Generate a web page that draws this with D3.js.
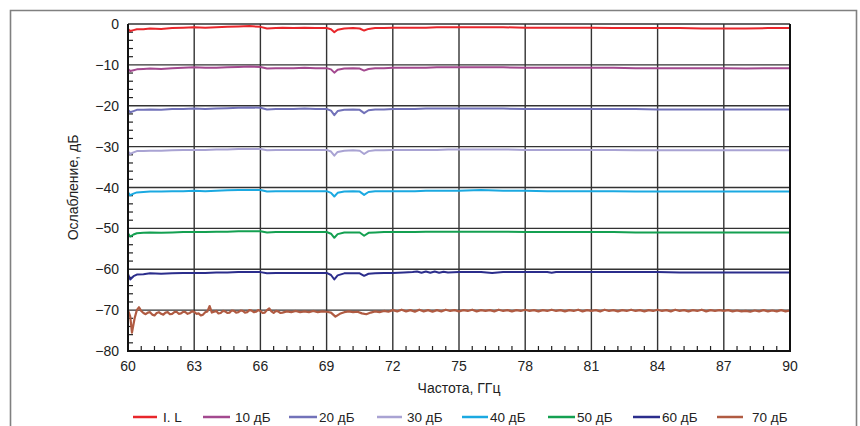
<!DOCTYPE html>
<html><head><meta charset="utf-8">
<script src="https://cdn.jsdelivr.net/npm/d3@7"></script>
<style>body{margin:0;background:#fff} text{font-family:"Liberation Sans",Arial,sans-serif;fill:#222}</style>
</head><body><svg id="c" width="860" height="426"></svg>
<script>
// ---------- DATA ----------
const seriesNames = ["I. L","10 дБ","20 дБ","30 дБ","40 дБ","50 дБ","60 дБ","70 дБ"];
const seriesColors = ["#e8262b","#a3498f","#7272b9","#a9a3d3","#1ba9e1","#14a051","#2b2d8c","#b05b42"];
const xTicks = [60,63,66,69,72,75,78,81,84,87,90];
const yTicks = [0,-10,-20,-30,-40,-50,-60,-70,-80];

const freq = [60,60.1,60.25,60.4,60.7,61,61.5,62,62.5,63,63.5,64,64.5,65,65.5,66,66.3,66.7,67,67.5,68,68.5,69,69.2,69.35,69.5,69.8,70.2,70.5,70.7,70.9,71.2,71.6,72,72.5,73,73.5,74,74.5,75,76,77,78,79,80,81,82,83,84,85,86,87,88,89,90];

const il   = [-1.2,-1.7,-1.5,-1.3,-1.3,-1.1,-1.2,-1.0,-0.9,-0.8,-0.9,-0.8,-0.7,-0.6,-0.5,-0.7,-1.1,-1.0,-0.9,-1.0,-0.9,-1.0,-1.0,-1.3,-2.0,-1.4,-1.1,-1.0,-1.1,-1.6,-1.2,-1.0,-1.0,-0.9,-0.9,-0.9,-0.9,-0.8,-0.8,-0.8,-0.8,-0.8,-0.9,-0.9,-0.9,-0.9,-1.0,-1.0,-1.0,-1.0,-1.1,-1.1,-1.1,-1.0,-1.0];
const db10 = [-11.0,-11.5,-11.3,-11.1,-11.0,-10.9,-11.0,-10.8,-10.7,-10.6,-10.7,-10.7,-10.6,-10.5,-10.4,-10.5,-10.9,-10.8,-10.8,-10.8,-10.7,-10.8,-10.8,-11.1,-11.9,-11.2,-10.9,-10.8,-10.9,-11.4,-11.0,-10.8,-10.8,-10.7,-10.7,-10.7,-10.7,-10.6,-10.6,-10.6,-10.6,-10.6,-10.7,-10.7,-10.7,-10.7,-10.7,-10.8,-10.8,-10.8,-10.8,-10.8,-10.9,-10.8,-10.8];
const db20 = [-21.0,-21.6,-21.3,-21.0,-21.0,-20.9,-21.0,-20.8,-20.8,-20.7,-20.8,-20.7,-20.6,-20.5,-20.4,-20.5,-20.9,-20.8,-20.8,-20.8,-20.7,-20.8,-20.8,-21.2,-22.3,-21.3,-21.0,-20.9,-21.0,-21.8,-21.1,-20.9,-20.9,-20.8,-20.8,-20.8,-20.7,-20.7,-20.7,-20.7,-20.7,-20.7,-20.8,-20.8,-20.8,-20.8,-20.8,-20.8,-20.9,-20.9,-20.9,-20.9,-20.9,-20.9,-20.9];
const db30 = [-31.2,-31.8,-31.4,-31.1,-31.1,-31.0,-31.0,-30.9,-30.8,-30.8,-30.8,-30.7,-30.7,-30.6,-30.6,-30.6,-30.9,-30.8,-30.8,-30.8,-30.8,-30.8,-30.8,-31.2,-32.2,-31.3,-31.0,-30.9,-31.0,-31.8,-31.1,-30.9,-30.9,-30.8,-30.8,-30.8,-30.8,-30.8,-30.7,-30.7,-30.7,-30.7,-30.8,-30.8,-30.8,-30.8,-30.8,-30.9,-30.9,-30.9,-30.9,-30.9,-30.9,-30.9,-30.9];
const db40 = [-41.2,-41.9,-41.5,-41.2,-41.1,-41.0,-41.0,-40.9,-40.9,-40.8,-40.9,-40.8,-40.7,-40.6,-40.6,-40.6,-41.0,-40.9,-40.9,-40.9,-40.9,-40.9,-40.9,-41.3,-42.2,-41.3,-41.0,-40.9,-41.0,-41.8,-41.1,-40.9,-40.9,-40.9,-40.9,-40.9,-40.8,-40.8,-40.8,-40.8,-40.6,-40.8,-40.8,-40.9,-40.9,-40.9,-40.9,-41.0,-41.0,-41.0,-41.0,-41.0,-41.0,-41.0,-41.0];
const db50 = [-51.2,-52.0,-51.5,-51.2,-51.1,-51.0,-51.1,-51.0,-50.9,-50.9,-50.9,-50.8,-50.8,-50.7,-50.7,-50.7,-51.0,-50.9,-50.9,-50.9,-50.9,-50.9,-50.9,-51.3,-52.3,-51.4,-51.0,-51.0,-51.0,-51.8,-51.1,-51.0,-50.9,-50.9,-50.9,-50.9,-50.8,-50.8,-50.8,-50.8,-50.8,-50.8,-50.9,-50.9,-50.9,-50.9,-50.9,-51.0,-51.0,-51.0,-51.0,-51.0,-51.0,-51.0,-51.0];

// [frequency, attenuation]
const db60 = [[60,-61.2],[60.1,-62.5],[60.25,-61.7],[60.4,-61.3],[60.7,-61.2],[61,-61.0],[61.5,-61.1],[62,-61.0],[62.5,-60.9],[63,-60.9],[63.5,-60.9],[64,-60.8],[64.5,-60.8],[65,-60.7],[65.5,-60.7],[66,-60.7],[66.3,-61.0],[66.7,-60.9],[67,-60.9],[67.5,-60.9],[68,-60.9],[68.5,-60.9],[69,-60.9],[69.2,-61.4],[69.35,-62.5],[69.5,-61.5],[69.8,-61.0],[70.2,-61.0],[70.5,-61.0],[70.7,-61.6],[70.9,-61.1],[71.2,-61.0],[71.6,-60.9],[72,-60.9],[72.5,-60.8],[72.9,-60.7],[73.1,-60.55],[73.3,-60.85],[73.5,-60.55],[73.7,-60.85],[73.9,-60.55],[74.1,-60.85],[74.3,-60.6],[74.5,-60.8],[75,-60.65],[76,-60.65],[76.5,-60.9],[77,-60.65],[78,-60.65],[79,-60.65],[79.2,-60.85],[79.4,-60.65],[80,-60.65],[81,-60.7],[82,-60.7],[83,-60.7],[84,-60.7],[85,-60.8],[86,-60.8],[87,-60.8],[88,-60.8],[89,-60.8],[90,-60.8]];

const db70 = [[60,-70.0],[60.1,-71.5],[60.18,-75.5],[60.3,-72.0],[60.4,-70.0],[60.5,-69.3],
[60.6,-70.2],[60.7,-70.7],[60.8,-71.0],[60.9,-70.6],[61.0,-70.5],[61.1,-71.1],[61.2,-71.3],[61.3,-70.7],[61.4,-70.5],[61.5,-70.9],[61.6,-71.1],[61.7,-70.6],[61.8,-70.5],[61.9,-71.0],[62.0,-70.9],[62.1,-70.5],[62.2,-70.4],[62.3,-70.9],[62.4,-70.8],[62.5,-70.4],[62.6,-70.5],[62.7,-70.9],[62.8,-70.7],[62.9,-70.3],[63.0,-70.4],[63.1,-70.9],[63.2,-70.8],[63.3,-71.3],[63.4,-71.1],[63.5,-70.5],[63.6,-70.3],[63.7,-69.0],[63.8,-70.6],[63.9,-70.4],[64.0,-70.2],[64.1,-70.8],[64.2,-70.7],[64.3,-70.2],[64.4,-70.3],[64.5,-70.7],[64.6,-70.6],[64.7,-70.1],[64.8,-70.2],[64.9,-70.6],[65.0,-70.5],[65.1,-70.1],[65.2,-70.2],[65.3,-70.6],[65.4,-70.5],[65.5,-70.0],[65.6,-70.1],[65.7,-70.5],[65.8,-70.4],[65.9,-70.0],[66.0,-70.2],[66.1,-70.7],[66.2,-70.6],[66.3,-70.0],[66.4,-69.6],[66.5,-70.3],[66.6,-70.7],[66.7,-70.2],[66.8,-70.3],[66.9,-70.7],[67.0,-70.6],[67.2,-70.3],[67.4,-70.5],[67.6,-70.2],[67.8,-70.5],[68.0,-70.3],[68.2,-70.5],[68.4,-70.2],[68.6,-70.5],[68.8,-70.3],[69.0,-70.4],[69.2,-70.6],[69.4,-71.6],[69.6,-70.9],[69.8,-70.5],[70.0,-70.3],[70.2,-70.5],[70.4,-70.4],[70.6,-70.8],[70.8,-71.0],[71.0,-70.6],[71.2,-70.3],[71.4,-70.5],[71.6,-70.2],[71.8,-70.4],
[72.0,-70.0],[72.2,-70.3],[72.4,-69.9],[72.6,-70.3],[72.8,-70.0],[73.0,-70.4],[73.2,-69.9],[73.4,-70.3],[73.6,-70.0],[73.8,-70.4],[74.0,-70.0],[74.2,-70.3],[74.4,-69.9],[74.6,-70.2],[74.8,-70.0],[75.0,-70.3],[75.2,-70.0],[75.4,-70.2],[75.6,-69.9],[75.8,-70.3],[76.0,-70.0],[76.2,-70.2],[76.4,-70.0],[76.6,-70.3],[76.8,-69.9],[77.0,-70.2],[77.2,-70.0],[77.4,-70.3],[77.6,-70.0],[77.8,-70.2],[78.0,-69.9],[78.2,-70.2],[78.4,-70.0],[78.6,-70.3],[78.8,-70.0],[79.0,-70.2],[79.2,-69.9],[79.4,-70.2],[79.6,-70.0],[79.8,-70.3],[80.0,-70.0],[80.2,-70.2],[80.4,-69.9],[80.6,-70.3],[80.8,-70.0],[81.0,-70.2],[81.2,-70.0],[81.4,-70.3],[81.6,-69.9],[81.8,-70.2],[82.0,-70.0],[82.2,-70.3],[82.4,-70.0],[82.6,-70.2],[82.8,-69.9],[83.0,-70.2],[83.2,-70.0],[83.4,-70.3],[83.6,-70.0],[83.8,-70.2],[84.0,-69.9],[84.2,-70.2],[84.4,-70.0],[84.6,-70.3],[84.8,-69.9],[85.0,-70.2],[85.2,-70.0],[85.4,-70.3],[85.6,-70.0],[85.8,-70.2],[86.0,-69.9],[86.2,-70.3],[86.4,-70.0],[86.6,-70.2],[86.8,-70.0],[87.0,-70.2],[87.2,-70.0],[87.4,-70.3],[87.6,-70.1],[87.8,-70.3],[88.0,-70.2],[88.2,-70.4],[88.4,-70.1],[88.6,-70.3],[88.8,-70.0],[89.0,-70.3],[89.2,-70.1],[89.4,-70.3],[89.6,-70.0],[89.8,-70.3],[90.0,-70.1]];

// ---------- BUILD ----------
const zip = v => freq.map((f,i)=>[f,v[i]]);
const series = [zip(il),zip(db10),zip(db20),zip(db30),zip(db40),zip(db50),db60,db70];

const svg = d3.select("#c");
const x = d3.scaleLinear().domain([60,90]).range([128,790]);
const y = d3.scaleLinear().domain([-80,0]).range([351,24]);

// outer frame
svg.append("path").attr("d","M10.5,426 V10.5 H856.5 V426")
  .attr("fill","none").attr("stroke","#808080").attr("stroke-width",1.6);

// grid
const g = svg.append("g");
g.selectAll(".hg").data(yTicks.filter(t=>t>-80)).join("line")
  .attr("x1",x(60)).attr("x2",x(90)).attr("y1",d=>y(d)).attr("y2",d=>y(d))
  .attr("stroke","#333").attr("stroke-width",1.4);
g.selectAll(".vg").data(xTicks.filter(t=>t>60&&t<90)).join("line")
  .attr("y1",y(0)).attr("y2",y(-80)).attr("x1",d=>x(d)).attr("x2",d=>x(d))
  .attr("stroke","#333").attr("stroke-width",1.4);

// minor ticks
const xMinor = d3.range(0,51).map(i=>60+i*0.6).filter(v=>Math.abs(v/3-Math.round(v/3))>1e-6);
g.selectAll(".xm").data(xMinor).join("line")
  .attr("x1",d=>x(d)).attr("x2",d=>x(d)).attr("y1",y(-80)).attr("y2",y(-80)-5)
  .attr("stroke","#222").attr("stroke-width",1.2);
const yMinor = d3.range(0,41).map(i=>-80+i*2).filter(v=>v%10!==0);
g.selectAll(".ym").data(yMinor).join("line")
  .attr("y1",d=>y(d)).attr("y2",d=>y(d)).attr("x1",x(60)).attr("x2",x(60)+5)
  .attr("stroke","#222").attr("stroke-width",1.2);

// traces
const line = d3.line().x(d=>x(d[0])).y(d=>y(d[1]));
svg.append("g").selectAll("path").data(series).join("path")
  .attr("d",line).attr("fill","none")
  .attr("stroke",(d,i)=>seriesColors[i])
  .attr("stroke-width",(d,i)=>i===7?2.2:2)
  .attr("stroke-linejoin","round");

// axes frame
svg.append("path")
  .attr("d",`M${x(60)},${y(0)} V${y(-80)} H${x(90)} V${y(0)}`)
  .attr("fill","none").attr("stroke","#111").attr("stroke-width",2);

// tick labels
const fmt = d3.format("d");
svg.append("g").selectAll("text").data(yTicks).join("text")
  .attr("x",119).attr("y",d=>y(d)+5).attr("text-anchor","end")
  .style("font-size","14px").text(d=>fmt(d));
svg.append("g").selectAll("text").data(xTicks).join("text")
  .attr("x",d=>x(d)).attr("y",371).attr("text-anchor","middle")
  .style("font-size","14px").text(d=>d);

// titles
svg.append("text").attr("x",x(75)).attr("y",393).attr("text-anchor","middle")
  .style("font-size","14px").text("Частота, ГГц");
svg.append("text").attr("transform",`translate(78,${(y(0)+y(-80))/2}) rotate(-90)`)
  .attr("text-anchor","middle").style("font-size","14px").text("Ослабление, дБ");

// legend
const legLine = [[133,157],[203,230],[289,317],[377,402],[462,488],[548,575],[633,660],[717,743]];
const legText = [163,235,319,407,490,577,662,752];
const lg = svg.append("g");
seriesNames.forEach((n,i)=>{
  lg.append("line").attr("x1",legLine[i][0]).attr("x2",legLine[i][1]).attr("y1",417).attr("y2",417)
    .attr("stroke",seriesColors[i]).attr("stroke-width",2.5);
  lg.append("text").attr("x",legText[i]).attr("y",421.5).style("font-size","13.5px").text(n);
});
</script></body></html>
